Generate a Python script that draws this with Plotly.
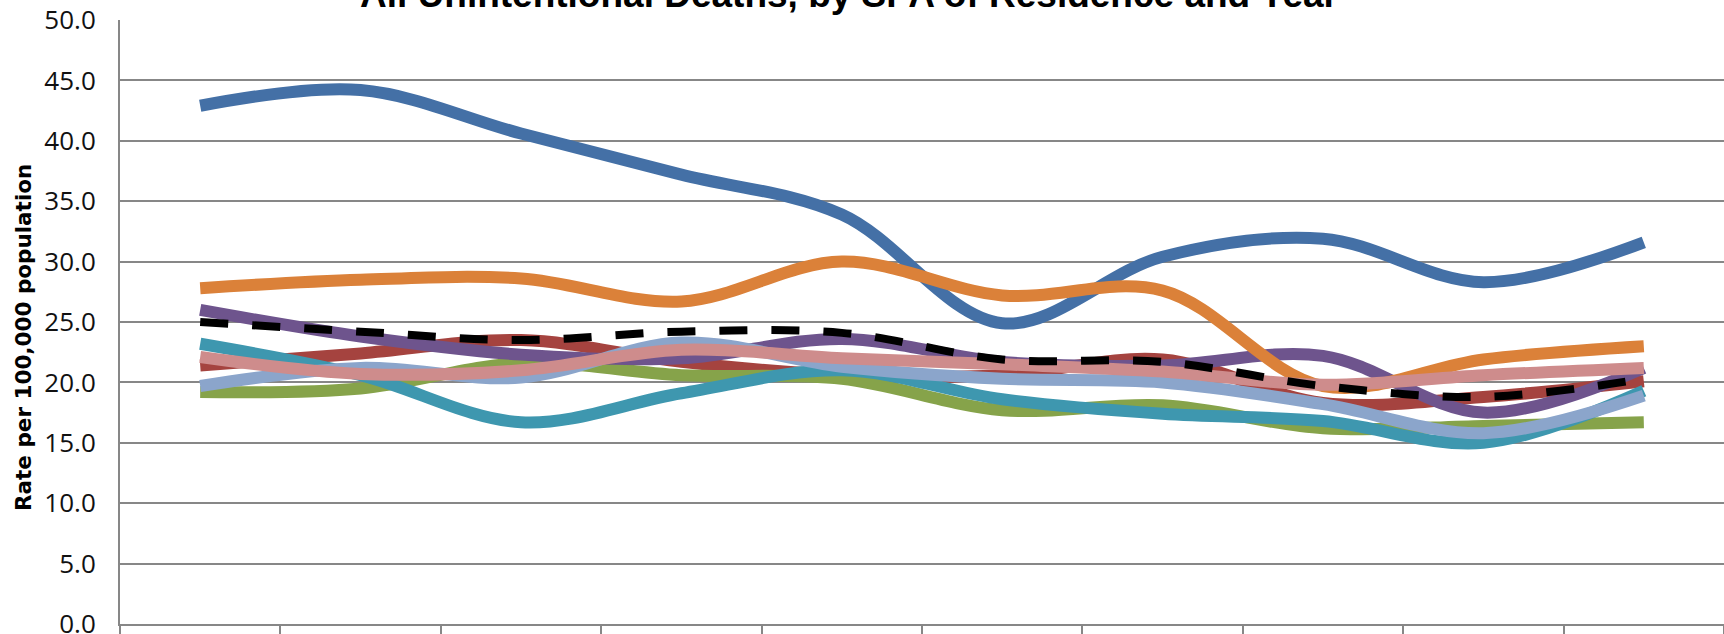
import plotly.graph_objects as go

years = ["2001", "2002", "2003", "2004", "2005", "2006", "2007", "2008", "2009", "2010"]

spa1 = [42.9, 44.2, 40.6, 37.2, 33.9, 24.9, 30.4, 31.9, 28.3, 31.6]
spa2 = [21.4, 22.4, 23.5, 21.7, 20.6, 20.6, 21.9, 18.3, 18.8, 20.1]
spa3 = [19.2, 19.5, 21.6, 20.6, 20.3, 17.7, 18.1, 16.2, 16.4, 16.7]
spa4 = [26.0, 23.8, 22.3, 22.0, 23.6, 21.7, 21.4, 22.2, 17.5, 21.2]
spa5 = [23.2, 20.6, 16.7, 19.1, 21.0, 18.6, 17.4, 16.8, 15.0, 19.3]
spa6 = [27.8, 28.5, 28.6, 26.7, 30.0, 27.2, 27.6, 19.7, 21.9, 23.0]
spa7 = [19.7, 21.2, 20.4, 23.3, 21.3, 20.3, 20.0, 18.2, 15.8, 18.9]
spa8 = [22.1, 20.7, 21.0, 22.7, 22.0, 21.5, 20.9, 19.8, 20.6, 21.2]
la_county = [25.0, 24.2, 23.5, 24.2, 24.1, 21.9, 21.7, 19.7, 18.8, 20.3]

series_names = ["SPA 1", "SPA 2", "SPA 3", "SPA 4", "SPA 5", "SPA 6", "SPA 7", "SPA 8", "LA County"]
series_values = [spa1, spa2, spa3, spa4, spa5, spa6, spa7, spa8, la_county]
series_colors = ["#4470A6", "#A5433F", "#86A34A", "#6E548D", "#3E97AF", "#DB8139",
                 "#8BA5CB", "#CE8C8C", "#000000"]

title_text = "All Unintentional Deaths, by SPA of Residence and Year"
y_title = "Rate per 100,000 population"

fig = go.Figure()
for name, vals, col in zip(series_names, series_values, series_colors):
    dashed = name == "LA County"
    fig.add_trace(go.Scatter(
        x=years, y=vals, name=name, mode="lines",
        line=dict(color=col, width=8 if dashed else 12, shape="spline", smoothing=1.0,
                  dash="28px,24px" if dashed else "solid"),
        showlegend=False,
    ))

W, H = 1724, 634
L, T, B = 120, 20, 10
fig.update_layout(
    width=W, height=H,
    margin=dict(l=L, r=0, t=T, b=B, autoexpand=False),
    paper_bgcolor="white", plot_bgcolor="white",
    showlegend=False,
    font=dict(family="Open Sans", color="#111111"),
)
fig.update_xaxes(
    type="category", range=[-0.5, 9.5],
    showgrid=False, showline=True, linecolor="#878787", linewidth=2,
    ticks="outside", tickson="boundaries", ticklen=12, tickwidth=2, tickcolor="#878787",
    showticklabels=False, zeroline=False, fixedrange=True,
)
fig.update_yaxes(
    range=[0, 50], dtick=5, tick0=0, tickformat=".1f",
    showgrid=True, gridcolor="#878787", gridwidth=2,
    showline=True, linecolor="#878787", linewidth=2,
    ticks="", ticklabelstandoff=17, ticklabeloverflow="allow",
    tickfont=dict(family="Open Sans", size=26, color="#111111"),
    zeroline=False, fixedrange=True,
)
fig.add_annotation(
    text="<b>" + title_text + "</b>", xref="paper", yref="paper",
    x=(849 - L) / (W - L), y=1 + (T - 17) / (H - T - B),
    xanchor="center", yanchor="bottom", showarrow=False,
    font=dict(family="Liberation Sans", size=37, color="#000000"),
)
fig.add_annotation(
    text="<b>" + y_title + "</b>", xref="paper", yref="paper",
    x=(23 - L) / (W - L), y=(624 - 338) / (H - T - B),
    xanchor="center", yanchor="middle", textangle=-90, showarrow=False,
    font=dict(family="DejaVu Sans", size=21.5, color="#000000"),
)
fig.write_html("out.html", config={"displayModeBar": False},
               post_script="document.body.style.margin='0';")
